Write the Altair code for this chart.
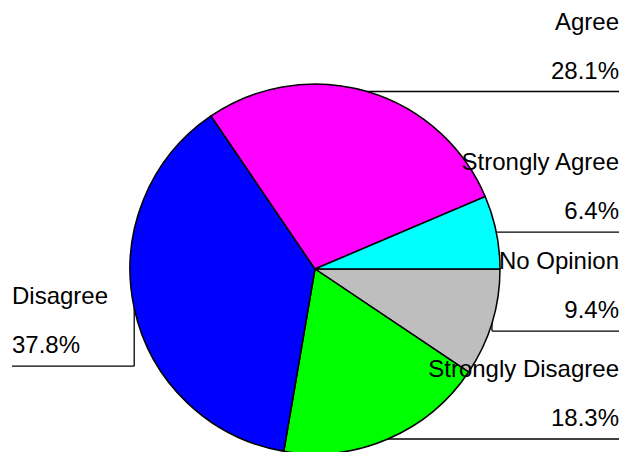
import math
import altair as alt
import pandas as pd

# ---- data (clockwise from 3 o'clock) ----
categories = ["No Opinion", "Strongly Disagree", "Disagree", "Agree", "Strongly Agree"]
percents = [9.4, 18.3, 37.8, 28.1, 6.4]
colors = ["#BEBEBE", "#00FF00", "#0000FF", "#FF00FF", "#00FFFF"]

df = pd.DataFrame({"category": categories, "pct": percents, "order": list(range(len(categories)))})

# ---- layout constants ----
W, H = 623, 452
CX, CY, R = 315, 269, 185
RIGHT_X, LEFT_X = 619, 12
LEFT_DROP = 58      # left labels: leader drops below the slice edge
MIN_GAP = 99        # min vertical spacing between right-side labels
FONT = "Liberation Sans"
FS = 24
PI = math.pi

base = alt.Chart(df)

arc = base.mark_arc(radius=R, stroke="black", strokeWidth=1.5).encode(
    theta=alt.Theta("pct:Q", stack=True, scale=alt.Scale(range=[PI / 2, PI / 2 + 2 * PI])),
    color=alt.Color("category:N", scale=alt.Scale(domain=categories, range=colors), legend=None),
    order=alt.Order("order:Q"),
    x=alt.value(CX),
    y=alt.value(CY),
)

lab = (
    base.transform_joinaggregate(total="sum(pct)")
    .transform_window(cum="sum(pct)", sort=[alt.SortField("order")], frame=[None, 0])
    .transform_calculate(mid="(datum.cum - datum.pct / 2) / datum.total")
    .transform_calculate(a=f"{PI / 2} + 2 * PI * datum.mid")
    .transform_calculate(
        ex=f"{CX} + {R} * sin(datum.a)",
        ey=f"{CY} - {R} * cos(datum.a)",
    )
    .transform_calculate(side=f"datum.ex < {CX} ? 'left' : 'right'")
    .transform_window(
        prev_ey="lag(ey)", groupby=["side"], sort=[alt.SortField("ey")]
    )
    .transform_calculate(
        ly=f"datum.side == 'left' ? datum.ey + {LEFT_DROP} : "
           f"(isValid(datum.prev_ey) ? max(datum.ey, datum.prev_ey + {MIN_GAP}) : datum.ey)",
        endx=f"datum.side == 'left' ? {LEFT_X} : {RIGHT_X}",
        ptxt="format(datum.pct, '.1f') + '%'",
    )
    .transform_calculate(
        ty_pct="datum.ly - 13",
        ty_name="datum.ly - 62",
    )
)

rule_v = lab.mark_rule(color="black", strokeWidth=1.3).encode(
    x=alt.X("ex:Q", scale=None, axis=None),
    y=alt.Y("ey:Q", scale=None, axis=None),
    y2="ly:Q",
)
rule_h = lab.mark_rule(color="black", strokeWidth=1.3).encode(
    x=alt.X("ex:Q", scale=None, axis=None),
    x2="endx:Q",
    y=alt.Y("ly:Q", scale=None, axis=None),
)

def texts(side, align):
    t = lab.transform_filter(f"datum.side == '{side}'")
    name = t.mark_text(align=align, baseline="alphabetic", font=FONT, fontSize=FS, color="black").encode(
        x=alt.X("endx:Q", scale=None, axis=None),
        y=alt.Y("ty_name:Q", scale=None, axis=None),
        text="category:N",
    )
    pct = t.mark_text(align=align, baseline="alphabetic", font=FONT, fontSize=FS, color="black").encode(
        x=alt.X("endx:Q", scale=None, axis=None),
        y=alt.Y("ty_pct:Q", scale=None, axis=None),
        text="ptxt:N",
    )
    return [name, pct]

layers = [arc, rule_v, rule_h] + texts("right", "right") + texts("left", "left")

chart = (
    alt.layer(*layers)
    .properties(width=W, height=H, padding=0, autosize="none", background="white")
    .configure_view(stroke=None)
)

chart.save("out.html", embed_options={"renderer": "svg", "actions": False})
